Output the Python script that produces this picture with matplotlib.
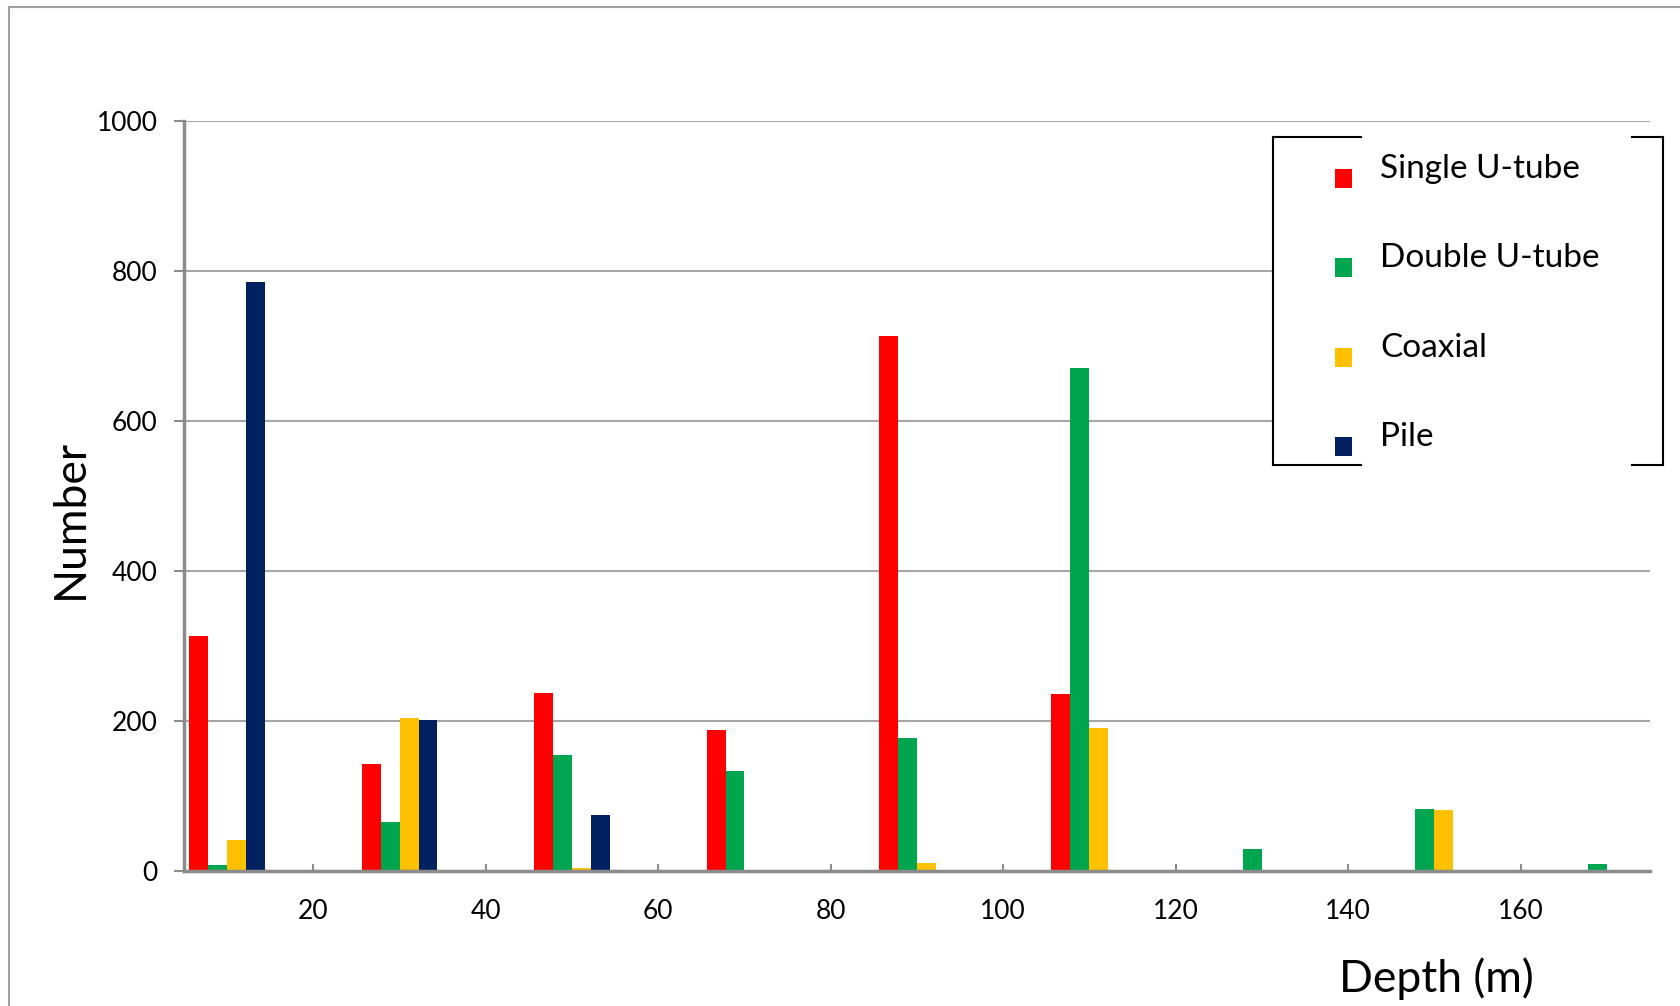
import matplotlib
matplotlib.use('Agg')
import numpy as np
import matplotlib.pyplot as plt
from matplotlib.patches import Rectangle
from matplotlib.lines import Line2D
from matplotlib.legend_handler import HandlerPatch

# ====== data ======
depths = [10, 30, 50, 70, 90, 110, 130, 150, 170]
series = ['Single U-tube', 'Double U-tube', 'Coaxial', 'Pile']
single_u = [314, 142, 237, 188, 713, 236, 0, 0, 0]
double_u = [8, 65, 154, 133, 177, 671, 29, 82, 9]
coaxial = [41, 204, 4, 0, 11, 190, 0, 81, 0]
pile = [786, 202, 74, 0, 0, 0, 0, 0, 0]
colors = ['#FF0000', '#00A550', '#FFC000', '#002060']

plt.rcParams['font.family'] = ['Lato', 'DejaVu Sans']

fig = plt.figure(figsize=(16.8, 10.06), dpi=100)
ax = fig.add_axes([0.1095, 0.1342, 0.8726, 0.7455])

w = 2.2
offsets = [-1.5 * w, -0.5 * w, 0.5 * w, 1.5 * w]
x = np.array(depths, dtype=float)
handles = []
for vals, off, c, name in zip([single_u, double_u, coaxial, pile], offsets, colors, series):
    b = ax.bar(x + off, vals, width=w, color=c, label=name, zorder=3)
    handles.append(b.patches[0])

ax.set_xlim(5, 175)
ax.set_ylim(0, 1000)
ax.set_xticks(range(20, 161, 20))
ax.set_yticks(range(0, 1001, 200))
ax.grid(axis='y', color='#A6A6A6', linewidth=1.5, zorder=0)
ax.set_axisbelow(True)

for s in ['top', 'right']:
    ax.spines[s].set_visible(False)
for s in ['left', 'bottom']:
    ax.spines[s].set_color('#8C8C8C')
    ax.spines[s].set_linewidth(2.5)
    ax.spines[s].set_zorder(4)

ax.tick_params(axis='y', direction='out', length=7, width=1.5, color='#8C8C8C',
               labelsize=19, pad=12)
ax.tick_params(axis='x', direction='in', length=5, width=1.5, color='#8C8C8C',
               labelsize=19, pad=20)

fig.text(0.042, 0.484, 'Number', rotation=90, fontsize=32, ha='center', va='center')
fig.text(0.855, 0.027, 'Depth (m)', fontsize=32, ha='center', va='center')

# ====== legend box (with gaps in top/bottom edges) ======
W, H = 1680.0, 1006.0
lx0, lx1, ly0, ly1 = 1273 / W, 1663 / W, 1 - 465 / H, 1 - 137 / H
fig.add_artist(Rectangle((lx0, ly0), lx1 - lx0, ly1 - ly0, transform=fig.transFigure,
                         facecolor='white', edgecolor='none', zorder=5))
g0, g1 = 1361 / W, 1632 / W
edge = dict(color='black', linewidth=1.5, transform=fig.transFigure, zorder=6)
for seg in [([lx0, lx0], [ly0, ly1]), ([lx1, lx1], [ly0, ly1]),
            ([lx0, g0], [ly1, ly1]), ([g1, lx1], [ly1, ly1]),
            ([lx0, g0], [ly0, ly0]), ([g1, lx1], [ly0, ly0])]:
    fig.add_artist(Line2D(seg[0], seg[1], **edge))


# legend squares sit a little below the text
def low_square(legend, orig_handle, xdescent, ydescent, width, height, fontsize):
    return Rectangle((-xdescent, -ydescent - 0.65 * height), width, height)


leg = fig.legend(handles=handles, labels=series, loc='upper left',
                 bbox_to_anchor=(1335 / W, 1 - 154 / H), frameon=False,
                 fontsize=24, handlelength=0.5, handleheight=0.5,
                 handletextpad=0.85, labelspacing=1.78, borderpad=0,
                 borderaxespad=0,
                 handler_map={Rectangle: HandlerPatch(patch_func=low_square)})
leg.set_zorder(7)

# outer chart frame
frame = dict(color='#A0A0A0', linewidth=1.5, transform=fig.transFigure)
fig.add_artist(Line2D([9 / W, 9 / W], [0, 1 - 7 / H], **frame))
fig.add_artist(Line2D([9 / W, 1], [1 - 7 / H, 1 - 7 / H], **frame))

plt.savefig('out.png', dpi=100)
plt.close()
